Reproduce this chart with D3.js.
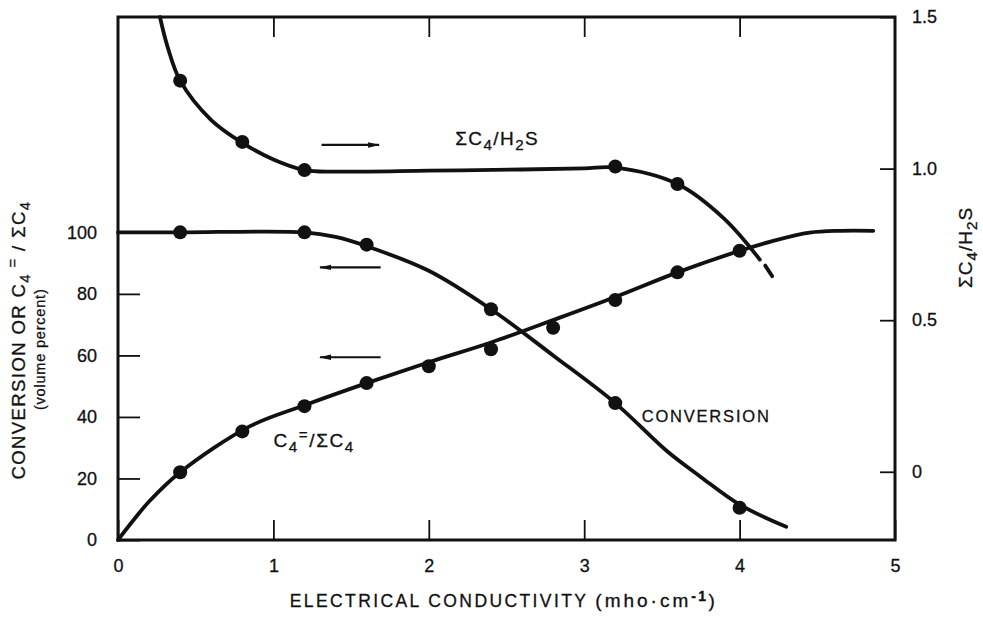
<!DOCTYPE html>
<html>
<head>
<meta charset="utf-8">
<script src="https://cdn.jsdelivr.net/npm/d3@7"></script>
<style>
  body { margin: 0; background: #fff; }
  text { font-family: "Liberation Sans", Arial, sans-serif; fill: #111; stroke: #111; stroke-width: 0.3px; }
</style>
</head>
<body>
<script>
// measured points (electrical conductivity, mho/cm)
const ratioX = [0.4, 0.8, 1.2, 3.2, 3.6];
const ratioY = [1.29, 1.088, 0.995, 1.007, 0.949];          // ΣC4/H2S, right axis
const convX = [0.4, 1.2, 1.6, 2.4, 3.2, 4.0];
const convY = [100, 100, 96, 75, 44.5, 10.5];                // conversion, left axis
const olefX = [0.4, 0.8, 1.2, 1.6, 2.0, 2.4, 2.8, 3.2, 3.6, 4.0];
const olefY = [22, 35.3, 43.5, 51, 56.5, 62, 69, 78, 87, 94]; // C4=/ΣC4, left axis

// hand-drawn curves
const ratioCurveX = [0.27, 0.32, 0.4, 0.6, 0.8, 1.0, 1.2, 1.4, 2.0, 2.6, 3.0, 3.2, 3.6, 3.9, 4.13];
const ratioCurveY = [1.5, 1.40, 1.29, 1.16, 1.085, 1.03, 0.995, 0.99, 0.993, 0.997, 1.001, 1.003, 0.949, 0.835, 0.70];
const ratioDashX = [4.165, 4.21];
const ratioDashY = [0.68, 0.645];
const convCurveX = [0, 0.4, 1.2, 1.4, 1.6, 2.0, 2.4, 2.8, 3.2, 3.53, 3.75, 4.0, 4.3];
const convCurveY = [100, 100, 100, 98.5, 95.5, 87.5, 75, 60, 44.5, 29, 20.5, 11.5, 4.3];
const olefCurveX = [0, 0.1, 0.2, 0.4, 0.85, 1.2, 1.6, 2.0, 2.4, 2.8, 3.2, 3.6, 4.0, 4.2, 4.45, 4.65, 4.86];
const olefCurveY = [0, 6.5, 12.5, 22, 37, 43.8, 51, 57.8, 64.2, 71.5, 79, 87, 94, 97, 99.9, 100.5, 100.5];

// ticks
const xTicks = [0, 1, 2, 3, 4, 5];
const leftTicks = [0, 20, 40, 60, 80, 100];
const rightTicks = [0, 0.5, 1.0, 1.5];

const width = 983;
const height = 618;
const x0 = 118, x1 = 895, yTop = 17, yBottom = 540;

const svg = d3.select('body').append('svg')
  .attr('width', width)
  .attr('height', height);

svg.append('rect').attr('width', width).attr('height', height).attr('fill', '#fff');

const xScale = d3.scaleLinear().domain([0, 5]).range([x0, x1]);
const yLeft = d3.scaleLinear().domain([0, 170]).range([yBottom, yTop]);
const yRight = d3.scaleLinear().domain([-0.225, 1.5]).range([yBottom, yTop]);

// axes, ticks pointing inward
const xAxis = d3.axisBottom(xScale).tickValues(xTicks).tickSize(-20).tickPadding(19).tickFormat(d3.format('d'));
const xTopAxis = d3.axisTop(xScale).tickValues([1, 2, 3, 4]).tickSize(-20).tickFormat('');
const leftAxis = d3.axisLeft(yLeft).tickValues(leftTicks).tickSize(-22).tickPadding(21);
const rightAxis = d3.axisRight(yRight).tickValues(rightTicks).tickSize(-15).tickPadding(17)
  .tickFormat((d) => d === 0 ? '0' : d.toFixed(1));

function styleAxis(g, size) {
  g.select('.domain').remove();
  g.selectAll('line').attr('stroke', '#111').attr('stroke-width', 1.8);
  g.selectAll('text').attr('font-size', size).attr('fill', '#111')
    .style('font-family', '"Liberation Sans", Arial, sans-serif');
}

svg.append('g').attr('transform', `translate(0, ${yBottom})`).call(xAxis).call(styleAxis, 18);
svg.append('g').attr('transform', `translate(0, ${yTop})`).call(xTopAxis).call(styleAxis, 18);
svg.append('g').attr('transform', `translate(${x0}, 0)`).call(leftAxis).call(styleAxis, 18);
svg.append('g').attr('transform', `translate(${x1}, 0)`).call(rightAxis).call(styleAxis, 18);

// frame
svg.append('rect')
  .attr('x', x0).attr('y', yTop)
  .attr('width', x1 - x0).attr('height', yBottom - yTop)
  .attr('fill', 'none').attr('stroke', '#111').attr('stroke-width', 3);

// curves
const zip = (xs, ys) => xs.map((v, i) => ({ x: v, y: ys[i] }));

const leftLine = d3.line().x((d) => xScale(d.x)).y((d) => yLeft(d.y)).curve(d3.curveCatmullRom.alpha(0.5));
const rightLine = d3.line().x((d) => xScale(d.x)).y((d) => yRight(d.y)).curve(d3.curveCatmullRom.alpha(0.5));

const curves = svg.append('g').attr('fill', 'none').attr('stroke', '#111')
  .attr('stroke-width', 3.8).attr('stroke-linecap', 'round');

curves.append('path').datum(zip(ratioCurveX, ratioCurveY)).attr('d', rightLine);
curves.append('path').datum(zip(ratioDashX, ratioDashY)).attr('d', rightLine);
curves.append('path').datum(zip(convCurveX, convCurveY)).attr('d', leftLine);
curves.append('path').datum(zip(olefCurveX, olefCurveY)).attr('d', leftLine);

// points
const pts = svg.append('g').attr('fill', '#111');
pts.selectAll('.r').data(zip(ratioX, ratioY)).enter().append('circle')
  .attr('cx', (d) => xScale(d.x)).attr('cy', (d) => yRight(d.y)).attr('r', 7);
pts.selectAll('.c').data(zip(convX, convY)).enter().append('circle')
  .attr('cx', (d) => xScale(d.x)).attr('cy', (d) => yLeft(d.y)).attr('r', 7);
pts.selectAll('.o').data(zip(olefX, olefY)).enter().append('circle')
  .attr('cx', (d) => xScale(d.x)).attr('cy', (d) => yLeft(d.y)).attr('r', 7);

// arrows pointing to the axis each curve belongs to
svg.append('defs').append('marker')
  .attr('id', 'head').attr('viewBox', '0 0 12 7')
  .attr('refX', 11).attr('refY', 3.5)
  .attr('markerWidth', 12).attr('markerHeight', 7)
  .attr('markerUnits', 'userSpaceOnUse').attr('orient', 'auto')
  .append('path').attr('d', 'M0,0.8 L12,3.5 L0,6.2 Z').attr('fill', '#111');

const arrows = [
  { from: 1.31, to: 1.68, y: yRight(1.078) },
  { from: 1.69, to: 1.30, y: yLeft(88.6) },
  { from: 1.69, to: 1.30, y: yLeft(59.4) }
];
svg.append('g').selectAll('line').data(arrows).enter().append('line')
  .attr('x1', (d) => xScale(d.from)).attr('x2', (d) => xScale(d.to))
  .attr('y1', (d) => d.y).attr('y2', (d) => d.y)
  .attr('stroke', '#111').attr('stroke-width', 2.2)
  .attr('marker-end', 'url(#head)');

// series labels
function chem(sel, parts) {
  parts.forEach(([t, kind]) => {
    const ts = sel.append('tspan').text(t);
    if (kind === 'sub') ts.attr('font-size', '0.8em').attr('baseline-shift', '-30%');
    if (kind === 'sup') ts.attr('font-size', '0.8em').attr('baseline-shift', '45%');
  });
}

svg.append('text').attr('x', xScale(2.17)).attr('y', yRight(1.078))
  .attr('font-size', 19).attr('letter-spacing', 1.4)
  .call(chem, [['\u03A3C', ''], ['4', 'sub'], ['/H', ''], ['2', 'sub'], ['S', '']]);

svg.append('text').attr('x', xScale(3.37)).attr('y', yLeft(38.3))
  .attr('font-size', 16.5).attr('letter-spacing', 1.8)
  .text('CONVERSION');

svg.append('text').attr('x', xScale(1.0)).attr('y', yLeft(30.2))
  .attr('font-size', 19).attr('letter-spacing', 1.6)
  .call(chem, [['C', ''], ['4', 'sub'], ['=', 'sup'], ['/\u03A3C', ''], ['4', 'sub']]);

// axis titles
svg.append('text')
  .attr('transform', `translate(${(x0 + x1) / 2 - 3}, 607)`)
  .attr('text-anchor', 'middle').attr('font-size', 17.5).attr('letter-spacing', 2.4)
  .call((t) => {
    t.append('tspan').text('ELECTRICAL CONDUCTIVITY   ');
    t.append('tspan').attr('font-size', 19).attr('letter-spacing', 3).text('(mho\u00B7cm');
    t.append('tspan').attr('font-size', 14).attr('baseline-shift', '45%').attr('font-weight', 'bold').text('-1');
    t.append('tspan').attr('font-size', 19).text(')');
  });

svg.append('text')
  .attr('transform', `translate(25, ${yLeft(65)}) rotate(-90)`)
  .attr('text-anchor', 'middle').attr('font-size', 18.5).attr('letter-spacing', 1.4)
  .call(chem, [['CONVERSION OR C', ''], ['4', 'sub'], [' =', 'sup'], [' / \u03A3C', ''], ['4', 'sub']]);

svg.append('text')
  .attr('transform', `translate(45, ${yLeft(62)}) rotate(-90)`)
  .attr('text-anchor', 'middle').attr('font-size', 14.5).attr('letter-spacing', 0.8)
  .text('(volume percent)');

svg.append('text')
  .attr('transform', `translate(972, ${yRight(0.74)}) rotate(-90)`)
  .attr('text-anchor', 'middle').attr('font-size', 19).attr('letter-spacing', 1)
  .call(chem, [['\u03A3C', ''], ['4', 'sub'], ['/H', ''], ['2', 'sub'], ['S', '']]);
</script>
</body>
</html>
